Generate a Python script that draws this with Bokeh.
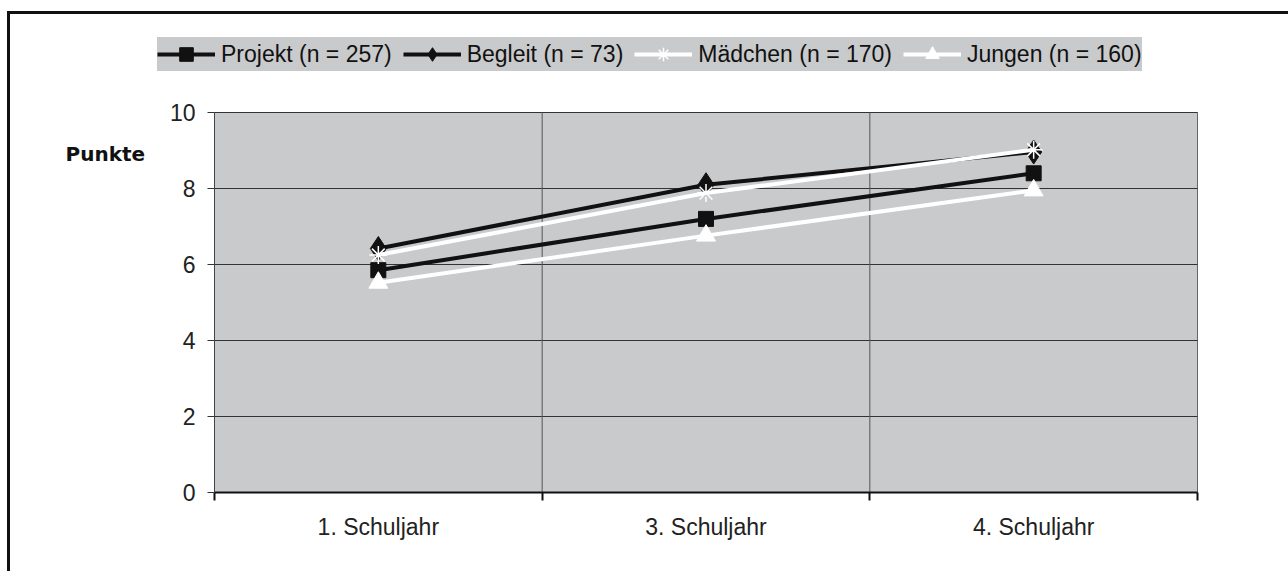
from bokeh.plotting import figure
from bokeh.models import (Range1d, LinearAxis, FixedTicker, Legend, LegendItem, Label)
from bokeh.embed import file_html
from bokeh.resources import INLINE
import numpy as np

# Schuljahre (Kategorien) und Mittelwerte der Punkte je Gruppe
categories = ["1. Schuljahr", "3. Schuljahr", "4. Schuljahr"]
projekt = [5.85, 7.2, 8.4]
begleit = [6.42, 8.1, 8.96]
maedchen = [6.25, 7.88, 9.02]
jungen = [5.52, 6.76, 7.95]

series_labels = ["Projekt (n = 257)", "Begleit (n = 73)", "Mädchen (n = 170)", "Jungen (n = 160)"]
y_ticks = [0, 2, 4, 6, 8, 10]
y_title = "Punkte"

FONT = "Liberation Sans"
BG = "#c9cacc"

# Geometrie (Pixel im Canvas): Zeichenfläche des Diagramms und Ränder
CANVAS_W, CANVAS_H = 1278, 557
PLOT_L, PLOT_R, PLOT_T, PLOT_B = 204, 1187, 98, 478
BORDER_L, BORDER_T, BORDER_B = 48, 4, 30
FRAME_W = CANVAS_W - BORDER_L
FRAME_H = CANVAS_H - BORDER_T - BORDER_B
FRAME_BOTTOM = BORDER_T + FRAME_H

n = len(categories)
centers = list(np.arange(n) + 0.5)
edges = list(np.arange(n + 1).astype(float))
y_lo, y_hi = y_ticks[0], y_ticks[-1]

sx = (PLOT_R - PLOT_L) / n
sy = (PLOT_B - PLOT_T) / (y_hi - y_lo)
x_range = Range1d(-(PLOT_L - BORDER_L) / sx, (CANVAS_W - PLOT_L) / sx)
y_range = Range1d(y_lo - (FRAME_BOTTOM - PLOT_B) / sy, y_hi + (PLOT_T - BORDER_T) / sy)

p = figure(
    frame_width=FRAME_W, frame_height=FRAME_H,
    min_border_left=BORDER_L, min_border_top=BORDER_T, min_border_right=0,
    min_border_bottom=BORDER_B,
    x_range=x_range, y_range=y_range,
    x_axis_type=None,
    output_backend="svg", toolbar_location=None,
    background_fill_color="white", border_fill_color="white",
)
p.styles = {
    "margin-left": "7px", "margin-top": "11px",
    "border-left": "3px solid #111", "border-top": "3px solid #111",
}
p.outline_line_color = None
p.xgrid.visible = False
p.ygrid.visible = False

# graue Zeichenfläche
bg = p.quad(left=edges[0], right=edges[-1], bottom=y_lo, top=y_hi,
            fill_color=BG, line_color="#666", line_width=1)
bg.level = "image"

# Gitterlinien: waagrecht bei den Punktwerten, senkrecht an den Kategoriegrenzen
inner_y = y_ticks[1:]
p.segment(x0=[edges[0]] * len(inner_y), x1=[edges[-1]] * len(inner_y),
          y0=inner_y, y1=inner_y, line_color="#333", line_width=1)
inner_x = edges[1:-1]
p.segment(x0=inner_x, x1=inner_x, y0=[y_lo] * len(inner_x), y1=[y_hi] * len(inner_x),
          line_color="#555", line_width=1)

# y-Achse
yax = p.yaxis[0]
yax.fixed_location = edges[0]
yax.bounds = (y_lo, y_hi)
yax.ticker = FixedTicker(ticks=y_ticks)
yax.minor_tick_line_color = None
yax.major_tick_in = 0
yax.major_tick_out = 7
yax.axis_line_color = "#444"
yax.major_tick_line_color = "#333"
yax.major_label_text_font = FONT
yax.major_label_text_font_size = "23px"
yax.major_label_text_color = "#222"
yax.major_label_standoff = 12

# x-Achse: Linie mit Strichen an den Kategoriegrenzen (Striche nach unten)
edge_axis = LinearAxis(ticker=FixedTicker(ticks=edges), fixed_location=y_lo,
                       bounds=(edges[0], edges[-1]))
edge_axis.axis_line_color = "#111"
edge_axis.axis_line_width = 2
edge_axis.major_tick_in = 8
edge_axis.major_tick_out = 0
edge_axis.major_tick_line_color = "#111"
edge_axis.major_tick_line_width = 2
edge_axis.minor_tick_line_color = None
edge_axis.major_label_text_font_size = "1px"
edge_axis.major_label_text_color = None
edge_axis.major_label_standoff = 0
p.add_layout(edge_axis, "above")

# Kategorienbeschriftung unter der Achse
cat_axis = LinearAxis(ticker=FixedTicker(ticks=centers),
                      fixed_location=y_lo - 21 / sy,
                      major_label_overrides={c: lab for c, lab in zip(centers, categories)})
cat_axis.axis_line_color = None
cat_axis.major_tick_line_color = None
cat_axis.minor_tick_line_color = None
cat_axis.major_tick_out = 0
cat_axis.major_tick_in = 0
cat_axis.major_label_text_font = FONT
cat_axis.major_label_text_font_size = "23px"
cat_axis.major_label_text_color = "#222"
cat_axis.major_label_standoff = 0
p.add_layout(cat_axis, "below")

# Linien mit Markern
items = []
specs = [
    (projekt, "#111111", "square", 15, "#111111", "#111111", 1),
    (begleit, "#111111", "diamond", 24, "#111111", "#111111", 1),
    (maedchen, "white", "asterisk", 18, None, "white", 1.5),
    (jungen, "white", "triangle", 19, "white", "white", 1),
]
for (vals, col, marker, size, fill, mline, mlw), lab in zip(specs, series_labels):
    r_line = p.line(centers, vals, line_color=col, line_width=4)
    r_mark = p.scatter(centers, vals, marker=marker, size=size,
                       fill_color=fill, line_color=mline, line_width=mlw)
    items.append(LegendItem(label=lab, renderers=[r_line, r_mark]))

# Legende über der Zeichenfläche
legend = Legend(items=items, orientation="horizontal",
                location=(147 - BORDER_L, FRAME_BOTTOM - 57))
legend.background_fill_color = BG
legend.background_fill_alpha = 1
legend.border_line_color = None
legend.label_text_font = FONT
legend.label_text_font_size = "23px"
legend.label_text_color = "#111"
legend.glyph_width = 58
legend.glyph_height = 34
legend.label_height = 34
legend.label_standoff = 6
legend.spacing = 11
legend.padding = 3
legend.margin = 0
p.add_layout(legend, "center")

# Beschriftung der y-Achse
p.add_layout(Label(x=(55 - PLOT_L) / sx, y=(PLOT_B - 139) / sy, text=y_title,
                   text_font="DejaVu Sans", text_font_style="bold", text_font_size="20px",
                   text_color="#111", text_baseline="middle"))

open("out.html", "w").write(file_html(p, INLINE))
